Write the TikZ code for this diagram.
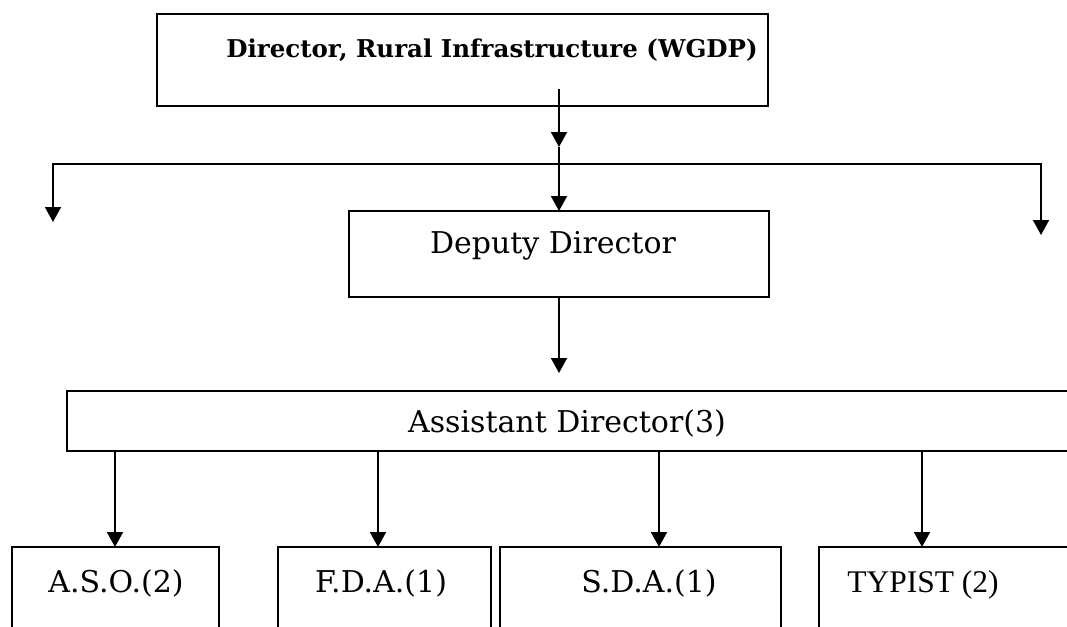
\documentclass[tikz,border=0pt]{standalone}
\usepackage{fontspec}
\setmainfont{DejaVu Serif}
\newfontfamily\timesface{Liberation Serif}
\usetikzlibrary{arrows.meta}
\begin{document}
\begin{tikzpicture}[x=1pt,y=-1pt,
  box/.style={draw, line width=2pt, inner sep=0pt, outer sep=0pt, anchor=north west},
  caption/.style={inner sep=0pt, anchor=base, font=\fontsize{30}{36}\selectfont},
  headline/.style={inner sep=0pt, anchor=base, font=\fontsize{24.5}{29}\selectfont\bfseries},
  link/.style={line width=1.8pt},
  arrow/.style={link, -{Triangle[width=16pt,length=15pt]}}]
\useasboundingbox (0,0) rectangle (1067,626);
\clip (0,0) rectangle (1067,626);

% boxes of the chart
\node[box, minimum width=611pt, minimum height=92pt] (dir) at (157,14) {};
\node[box, minimum width=420pt, minimum height=86pt] (dep) at (349,211) {};
\node[box, minimum width=1040pt, minimum height=60pt] (asd) at (67,391) {};
\node[box, minimum width=207pt, minimum height=120pt] (aso) at (12,547) {};
\node[box, minimum width=213pt, minimum height=120pt] (fda) at (278,547) {};
\node[box, minimum width=281pt, minimum height=120pt] (sda) at (500,547) {};
\node[box, minimum width=300pt, minimum height=120pt] (typ) at (819,547) {};

% titles
\node[headline] (dirT) at (492,58) {Director, Rural Infrastructure (WGDP)};
\node[caption] (depT) at (553,253) {Deputy Director};
\node[caption] (asdT) at (567,432) {Assistant Director(3)};
\node[caption] (asoT) at (116,592) {A.S.O.(2)};
\node[caption] (fdaT) at (381,592) {F.D.A.(1)};
\node[caption] (sdaT) at (649,592) {S.D.A.(1)};
\node[caption, font=\fontsize{31.5}{38}\selectfont\timesface] (typT) at (923,592) {TYPIST (2)};

% connector points
\coordinate (stem) at (559,89);
\coordinate (stemtip) at (559,147);
\coordinate (hub) at (559,164);
\coordinate (lendtip) at (53,222);
\coordinate (rendtip) at (1041,235);
\coordinate (depdrop) at (559,373);
\coordinate (a1) at (115,451);
\coordinate (a2) at (378,451);
\coordinate (a3) at (659,451);
\coordinate (a4) at (922,451);

% connectors
\draw[arrow] (stem) -- (stemtip);
\draw[link] (stemtip) -- (hub);
\draw[arrow] (hub) -| (lendtip);
\draw[arrow] (hub) -| (rendtip);
\draw[arrow] (hub) -- (dep.north);
\draw[arrow] (dep.south) -- (depdrop);
\draw[arrow] (a1) -- (a1 |- aso.north);
\draw[arrow] (a2) -- (a2 |- fda.north);
\draw[arrow] (a3) -- (a3 |- sda.north);
\draw[arrow] (a4) -- (a4 |- typ.north);
\end{tikzpicture}
\end{document}
